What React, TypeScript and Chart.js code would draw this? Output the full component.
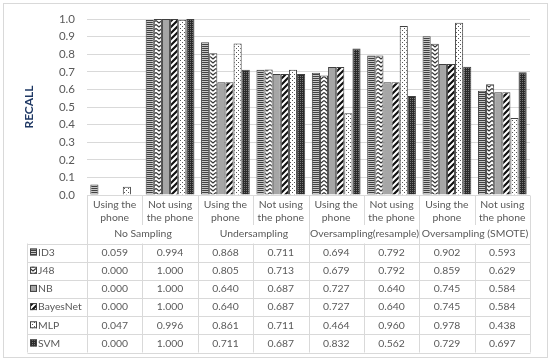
import React, { useEffect, useRef } from "react";
import { Chart, registerables } from "chart.js";

Chart.register(...registerables);

const categories: string[][] = [
  ["Using the", "phone"],
  ["Not using", "the phone"],
  ["Using the", "phone"],
  ["Not using", "the phone"],
  ["Using the", "phone"],
  ["Not using", "the phone"],
  ["Using the", "phone"],
  ["Not using", "the phone"],
];
const groups = ["No Sampling", "Undersampling", "Oversampling(resample)", "Oversampling (SMOTE)"];
const seriesNames = ["ID3", "J48", "NB", "BayesNet", "MLP", "SVM"];
const id3 = [0.059, 0.994, 0.868, 0.711, 0.694, 0.792, 0.902, 0.593];
const j48 = [0.0, 1.0, 0.805, 0.713, 0.679, 0.792, 0.859, 0.629];
const nb = [0.0, 1.0, 0.64, 0.687, 0.727, 0.64, 0.745, 0.584];
const bayesNet = [0.0, 1.0, 0.64, 0.687, 0.727, 0.64, 0.745, 0.584];
const mlp = [0.047, 0.996, 0.861, 0.711, 0.464, 0.96, 0.978, 0.438];
const svm = [0.0, 1.0, 0.711, 0.687, 0.832, 0.562, 0.729, 0.697];
const seriesValues = [id3, j48, nb, bayesNet, mlp, svm];
const yAxisTitle = "RECALL";

const FONT = "Lato, 'Open Sans', sans-serif";
const TEXT = "#595959";
const LINE = "#d9d9d9";

function makePattern(kind: number): CanvasPattern | string {
  const c = document.createElement("canvas");
  const ctx = c.getContext("2d")!;
  if (kind === 0) {
    c.width = 4; c.height = 2;
    ctx.fillStyle = "#c8c8c8"; ctx.fillRect(0, 0, 4, 2);
    ctx.fillStyle = "#404040"; ctx.fillRect(0, 0, 4, 1);
  } else if (kind === 1) {
    c.width = 6; c.height = 4;
    ctx.fillStyle = "#ffffff"; ctx.fillRect(0, 0, 6, 4);
    ctx.strokeStyle = "#333"; ctx.lineWidth = 1.2;
    ctx.beginPath(); ctx.moveTo(0, 0.5); ctx.lineTo(3, 3); ctx.lineTo(6, 0.5); ctx.stroke();
  } else if (kind === 2) {
    return "#a6a6a6";
  } else if (kind === 3) {
    c.width = 6; c.height = 6;
    ctx.fillStyle = "#ffffff"; ctx.fillRect(0, 0, 6, 6);
    ctx.strokeStyle = "#111"; ctx.lineWidth = 2.2;
    ctx.beginPath();
    ctx.moveTo(-3, 9); ctx.lineTo(9, -3);
    ctx.moveTo(-6, 6); ctx.lineTo(6, -6);
    ctx.moveTo(0, 12); ctx.lineTo(12, 0);
    ctx.stroke();
  } else if (kind === 4) {
    c.width = 4; c.height = 4;
    ctx.fillStyle = "#ffffff"; ctx.fillRect(0, 0, 4, 4);
    ctx.fillStyle = "#555"; ctx.fillRect(0, 0, 1, 1); ctx.fillRect(2, 2, 1, 1);
  } else {
    c.width = 2; c.height = 2;
    ctx.fillStyle = "#2a2a2a"; ctx.fillRect(0, 0, 2, 2);
    ctx.fillStyle = "#777"; ctx.fillRect(0, 0, 1, 1);
  }
  return ctx.createPattern(c, "repeat")!;
}

export default function App() {
  const ref = useRef<HTMLCanvasElement>(null);
  useEffect(() => {
    document.body.style.margin = "0";
    const fills = seriesNames.map((_, i) => makePattern(i));
    const tablePlugin = {
      id: "tablePlugin",
      beforeDraw(chart: any) {
        const ctx = chart.ctx;
        ctx.save();
        ctx.fillStyle = "#fff";
        ctx.fillRect(0, 0, chart.width, chart.height);
        ctx.strokeStyle = LINE;
        ctx.lineWidth = 1;
        ctx.strokeRect(3.5, 3.5, 544, 354);
        ctx.restore();
      },
      afterDraw(chart: any) {
        const ctx = chart.ctx;
        const x = chart.scales.x;
        const area = chart.chartArea;
        const n = categories.length;
        const cw = (area.right - area.left) / n;
        const bounds: number[] = [];
        for (let i = 0; i <= n; i++) bounds.push(Math.round(area.left + i * cw) + 0.5);
        const top = Math.round(area.bottom) + 0.5;
        const rowTop = 243.5;
        const rowH = 18.17;
        const rows = seriesNames.length;
        const tableBottom = rowTop + rows * rowH;
        const labelLeft = 27.5;
        ctx.save();
        ctx.strokeStyle = LINE;
        ctx.lineWidth = 1;
        ctx.beginPath();
        ctx.moveTo(area.left, top); ctx.lineTo(area.right, top);
        for (let i = 0; i <= n; i++) {
          if (i % 2 === 0) {
            ctx.moveTo(bounds[i], top); ctx.lineTo(bounds[i], tableBottom);
          } else {
            ctx.moveTo(bounds[i], top); ctx.lineTo(bounds[i], 225);
            ctx.moveTo(bounds[i], rowTop); ctx.lineTo(bounds[i], tableBottom);
          }
        }
        ctx.moveTo(labelLeft, rowTop); ctx.lineTo(labelLeft, tableBottom);
        for (let r = 0; r <= rows; r++) {
          const yy = Math.round(rowTop + r * rowH) + 0.5;
          ctx.moveTo(labelLeft, yy); ctx.lineTo(bounds[n], yy);
        }
        ctx.stroke();

        ctx.fillStyle = TEXT;
        ctx.font = `10.4px ${FONT}`;
        ctx.textAlign = "center";
        ctx.textBaseline = "middle";
        for (let i = 0; i < n; i++) {
          const cx = x.getPixelForValue(i);
          ctx.fillText(categories[i][0], cx, 204.5);
          ctx.fillText(categories[i][1], cx, 217.5);
        }
        for (let g = 0; g < groups.length; g++) {
          const cx = (bounds[g * 2] + bounds[g * 2 + 2]) / 2;
          ctx.fillText(groups[g], cx, 234);
        }
        for (let r = 0; r < rows; r++) {
          const cy = rowTop + r * rowH + rowH / 2;
          for (let i = 0; i < n; i++) {
            const cx = x.getPixelForValue(i);
            ctx.fillText(seriesValues[r][i].toFixed(3), cx, cy);
          }
          ctx.fillStyle = fills[r] as any;
          ctx.fillRect(30, cy - 4, 7, 7);
          ctx.strokeStyle = "#404040";
          ctx.strokeRect(30.5, cy - 3.5, 6, 6);
          ctx.fillStyle = TEXT;
          ctx.textAlign = "left";
          ctx.fillText(seriesNames[r], 38, cy);
          ctx.textAlign = "center";
        }
        ctx.restore();
      },
    };
    const chart = new Chart(ref.current!, {
      type: "bar",
      data: {
        labels: categories.map((c) => c.join(" ")),
        datasets: seriesNames.map((name, i) => ({
          label: name,
          data: seriesValues[i],
          backgroundColor: fills[i] as any,
          borderColor: "#404040",
          borderWidth: 1,
          categoryPercentage: 0.88,
          barPercentage: 1.0,
        })),
      },
      options: {
        responsive: false,
        animation: false,
        layout: { padding: { left: 22, right: 20, top: 19, bottom: 169 } },
        plugins: { legend: { display: false }, tooltip: { enabled: false } },
        scales: {
          x: { display: false },
          y: {
            min: 0,
            max: 1,
            ticks: {
              stepSize: 0.1,
              color: TEXT,
              padding: 12,
              font: { family: FONT, size: 11.5 },
              callback: (v: any) => Number(v).toFixed(1),
            },
            grid: { color: LINE, drawTicks: false },
            border: { display: false },
            title: {
              display: true,
              text: yAxisTitle,
              color: "#1f3864",
              font: { family: FONT, size: 12, weight: "bold" },
              padding: 0,
            },
            afterFit: (s: any) => { s.width = 65; },
          },
        },
      },
      plugins: [tablePlugin],
    });
    return () => chart.destroy();
  }, []);
  return <canvas ref={ref} width={550} height={364} style={{ display: "block" }} />;
}
